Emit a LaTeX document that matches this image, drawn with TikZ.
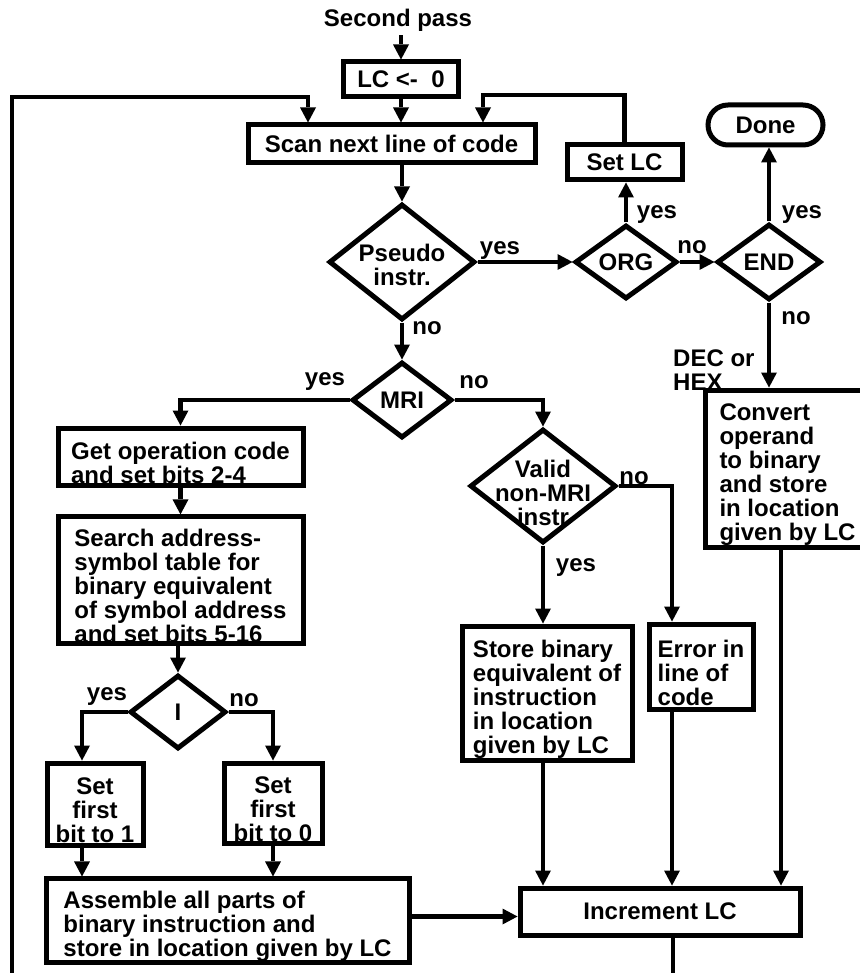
\documentclass[tikz,border=0pt]{standalone}
\usepackage{fontspec}
\setmainfont{Liberation Sans}
\usetikzlibrary{shapes.geometric}
\usetikzlibrary{shapes.misc}
\usetikzlibrary{arrows.meta}
\newcommand{\textdrop}{\rule{0pt}{30pt}}
\tikzstyle{txt}=[font=\bfseries\fontsize{24}{24}\selectfont, inner sep=0pt]
\tikzstyle{box}=[txt, draw, rectangle, line width=5pt, align=left]
\tikzstyle{cbox}=[box, align=center]
\tikzstyle{terminal}=[box, rounded rectangle]
\tikzstyle{decision}=[txt, draw, diamond, line width=5pt]
\tikzstyle{flow}=[line width=4.5pt]
\tikzstyle{arr}=[flow, -{Triangle[width=16pt, length=15pt, line width=0pt]}]

\begin{document}
\begin{tikzpicture}[x=1pt, y=-1pt]
        \useasboundingbox (0,0) rectangle (859,973);
        \node[txt] (pass) at (398,20) {Second pass};
        \node[box, minimum width=115pt, minimum height=35pt] (lc) at (401,79.5) {LC <-\ \ 0};
        \node[box, minimum width=287pt, minimum height=38pt] (scan) at (391.5,144) {Scan next line of code};
        \node[decision, minimum width=146pt, minimum height=116pt, label={[txt, align=center, yshift=-3pt]center:Pseudo\\instr.}] (pseudo) at (402,262) {};
        \node[decision, minimum width=102pt, minimum height=74pt] (orgdec) at (626,262) {ORG};
        \node[box, minimum width=115pt, minimum height=35pt] (setlc) at (624.5,162.5) {Set LC};
        \node[decision, minimum width=104pt, minimum height=76pt] (enddec) at (769,262) {END};
        \node[terminal, minimum width=115pt, minimum height=40pt] (done) at (765.5,125) {Done};
        \node[decision, minimum width=100pt, minimum height=76pt] (mri) at (402,400) {MRI};
        \node[box, minimum width=245pt, minimum height=57pt] (getop) at (180.5,456.5) {\textdrop Get operation code\\and set bits 2-4};
        \node[box, minimum width=245pt, minimum height=126pt] (search) at (180.5,580) {\textdrop Search address-\\symbol table for\\binary equivalent\\of symbol address\\and set bits 5-16};
        \node[decision, minimum width=96pt, minimum height=74pt] (idec) at (178,712) {I};
        \node[cbox, minimum width=96pt, minimum height=82pt] (setone) at (95,804) {\textdrop Set\\first\\bit to 1};
        \node[cbox, minimum width=98pt, minimum height=80pt] (setzero) at (273,803) {\textdrop Set\\first\\bit to 0};
        \node[box, minimum width=363pt, minimum height=81pt] (assemble) at (227.5,920.5) {\textdrop Assemble all parts of\\binary instruction and\\store in location given by LC};
        \node[box, minimum width=280pt, minimum height=47pt] (incr) at (660,911.5) {Increment LC};
        \node[decision, minimum width=146pt, minimum height=114pt, label={[txt, align=center, yshift=-7pt]center:Valid\\non-MRI\\instr}] (valid) at (543,486) {};
        \node[box, minimum width=170pt, minimum height=134pt] (store) at (547,693) {\textdrop Store binary\\equivalent of\\instruction\\in location\\given by LC};
        \node[box, minimum width=104pt, minimum height=85pt] (error) at (701,666.5) {\textdrop Error in\\line of\\code};
        \node[box, minimum width=165pt, minimum height=157pt] (convert) at (787.5,468.5) {\textdrop Convert\\operand\\to binary\\and store\\in location\\given by LC};
        \node[txt, align=left, anchor=west] (decorhex) at (673,370) {DEC or\\HEX};
        \node[txt] (yespseudo) at (500,251) {yes};
        \node[txt] (yesorg) at (657,215) {yes};
        \node[txt] (noorg) at (692,247) {no};
        \node[txt] (yesend) at (802,215) {yes};
        \node[txt] (noend) at (796,318) {no};
        \node[txt] (nopseudo) at (427,328) {no};
        \node[txt] (yesmri) at (325,382) {yes};
        \node[txt] (nomri) at (474,382) {no};
        \node[txt] (novalid) at (634,478) {no};
        \node[txt] (yesvalid) at (576,568) {yes};
        \node[txt] (yesi) at (107,697) {yes};
        \node[txt] (noi) at (244,700) {no};
        \coordinate (loopin) at (12,975);
        \coordinate (loopl) at (308,97);
        \coordinate (loopr) at (483,95);
        \coordinate (incrout) at (673,975);
        \draw[arr] ([yshift=-4pt]pass.south -| lc.north) -- (lc.north);
        \draw[arr] (lc) -- (lc |- scan.north);
        \draw[arr] (scan.south -| pseudo.north) -- (pseudo.north);
        \draw[arr] (loopin) |- (loopl) -- (loopl |- scan.north);
        \draw[arr] (setlc.north) |- (loopr) -- (loopr |- scan.north);
        \draw[arr] (pseudo.east) -- (orgdec.west);
        \draw[arr] (orgdec.north) -- (orgdec.north |- setlc.south);
        \draw[arr] (orgdec.east) -- (enddec.west);
        \draw[arr] (enddec.north) -- (enddec.north |- done.south);
        \draw[arr] (enddec.south) -- (enddec.south |- convert.north);
        \draw[arr] (pseudo.south) -- (mri.north);
        \draw[arr] (mri.west) -| (getop.north);
        \draw[arr] (mri.east) -| (valid.north);
        \draw[arr] (getop) -- (search);
        \draw[arr] (search.south -| idec.north) -- (idec.north);
        \draw[arr] (idec.west) -| ([xshift=-13pt]setone.north);
        \draw[arr] (idec.east) -| (setzero.north);
        \draw[arr] ([xshift=-13pt]setone.south) -- ([xshift=-13pt]setone.south |- assemble.north);
        \draw[arr] (setzero.south) -- (setzero.south |- assemble.north);
        \draw[arr] ([yshift=-5pt]incr.west -| assemble.east) -- ([yshift=-5pt]incr.west);
        \draw[arr] (valid.south) -- (valid.south |- store.north);
        \draw[arr] (valid.east) -| ([xshift=-29pt]error.north);
        \draw[arr] ([xshift=-4pt]store.south) -- ([xshift=-4pt]store.south |- incr.north);
        \draw[arr] ([xshift=-29pt]error.south) -- ([xshift=-29pt]error.south |- incr.north);
        \draw[arr] ([xshift=-6.5pt]convert.south) -- ([xshift=-6.5pt]convert.south |- incr.north);
        \draw[flow] (incr.south -| incrout) -- (incrout);
\end{tikzpicture}
\end{document}
